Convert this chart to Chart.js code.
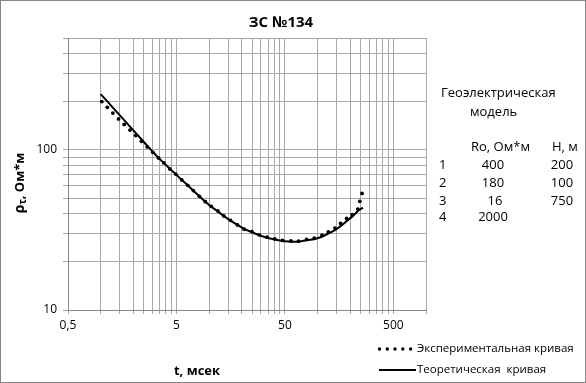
<!DOCTYPE html>
<html><head><meta charset="utf-8">
<script src="https://cdn.jsdelivr.net/npm/chart.js@4.4.1/dist/chart.umd.min.js"></script>
<style>
html,body{margin:0;padding:0;background:#fff;}
canvas{display:block;}
</style></head><body>
<canvas id="c" width="586" height="383"></canvas>
<script>
// ---- data ----
const chartTitle = 'ЗС №134';
const xAxisTitle = 't, мсек';
const yAxisTitleParts = ['ρ', 'τ', ', Ом*м'];
const seriesNames = ['Экспериментальная кривая', 'Теоретическая  кривая'];

const timeMs = [1.025, 1.152, 1.296, 1.462, 1.649, 1.864, 2.103, 2.377, 2.688, 3.031,
  3.418, 3.823, 4.34, 4.927, 5.59, 6.35, 7.16, 8.13, 9.23, 10.47,
  12.04, 13.67, 15.74, 18.26, 21.03, 24.8, 29.05, 34.19, 40.3, 47.5,
  56.8, 66.7, 79.2, 93.2, 110, 125.6, 144.7, 163.2, 185.3, 208.6,
  235.3, 245.4, 257];
const rhoExperimental = [200.4, 184.4, 169.8, 156.2, 144.3, 133, 122.9, 113.2, 104.4, 96.6,
  89.1, 83.0, 76.1, 70.6, 65.0, 60.1, 55.7, 51.3, 47.5, 44.4,
  41.6, 38.7, 36.3, 34.0, 32.0, 30.9, 29.5, 28.5, 27.8, 27.2,
  27.0, 26.9, 27.6, 28.1, 29.3, 30.7, 32.5, 34.7, 37.3, 39.4,
  42.7, 47.7, 53.5];
const timeTheory = [1.0, 1.152, 1.296, 1.462, 1.649, 1.864, 2.103, 2.377, 2.688, 3.031,
  3.418, 3.823, 4.34, 4.927, 5.59, 6.35, 7.16, 8.13, 9.23, 10.47,
  12.04, 13.67, 15.74, 18.26, 21.03, 24.8, 29.05, 34.19, 40.3, 47.5,
  56.8, 66.7, 79.2, 93.2, 110, 125.6, 144.7, 163.2, 185.3, 208.6,
  235.3, 245.4, 262];
const rhoTheoretical = [223, 201, 183.8, 167.9, 153.6, 139.8, 127.8, 116.5, 106.2, 97.3,
  89.1, 83.0, 76.3, 70.6, 65.0, 60.1, 55.6, 51.3, 47.4, 44.1,
  41.3, 38.6, 36.2, 34.0, 32.1, 30.6, 29.3, 28.3, 27.6, 27.0,
  26.7, 26.7, 27.3, 27.7, 28.7, 30.0, 31.5, 33.4, 35.9, 38.3,
  41.5, 42.4, 43.6];

const xTickValues = [0.5, 1, 1.5, 2, 2.5, 3, 3.5, 4, 4.5, 5, 10, 15, 20, 25, 30, 35, 40, 45,
  50, 100, 150, 200, 250, 300, 350, 400, 450, 500, 1000];
const xTickLabels = {0.5: '0,5', 5: '5', 50: '50', 500: '500'};
const yTickValues = [10, 20, 30, 40, 50, 60, 70, 80, 90, 100, 200, 300, 400, 500];
const yTickLabels = {10: '10', 100: '100'};

const modelTitle = ['Геоэлектрическая', 'модель'];
const modelHeaders = ['Ro, Ом*м', 'H, м'];
const layerNumbers = ['1', '2', '3', '4'];
const layerRo = ['400', '180', '16', '2000'];
const layerH = ['200', '100', '750', ''];

// ---- drawing ----
const FONT = "'Open Sans','Noto Sans','DejaVu Sans',sans-serif";
const GRID = '#a8a8a8';
const AXIS = '#868686';

const decor = {
  id: 'decor',
  afterDraw(chart) {
    const ctx = chart.ctx;
    ctx.save();
    ctx.fillStyle = '#000';
    ctx.textBaseline = 'middle';
    // title
    ctx.font = 'bold 15px ' + FONT;
    ctx.textAlign = 'center';
    ctx.fillText(chartTitle, 281, 23);
    // x title
    ctx.font = 'bold 13px ' + FONT;
    ctx.fillText(xAxisTitle, 197, 371);
    // y title (rotated, with subscript)
    ctx.save();
    ctx.translate(20, 183);
    ctx.rotate(-Math.PI / 2);
    ctx.textAlign = 'left';
    const fMain = 'bold 14px ' + FONT, fSub = 'bold 10px ' + FONT, fRest = 'bold 13px ' + FONT;
    ctx.font = fMain; const w1 = ctx.measureText(yAxisTitleParts[0]).width;
    ctx.font = fSub; const w2 = ctx.measureText(yAxisTitleParts[1]).width;
    ctx.font = fRest; const w3 = ctx.measureText(yAxisTitleParts[2]).width;
    let x0 = -(w1 + w2 + w3) / 2;
    ctx.font = fMain; ctx.fillText(yAxisTitleParts[0], x0, 0); x0 += w1;
    ctx.font = fSub; ctx.fillText(yAxisTitleParts[1], x0, 3); x0 += w2;
    ctx.font = fRest; ctx.fillText(yAxisTitleParts[2], x0, 0);
    ctx.restore();
    // model table
    ctx.font = '13px ' + FONT;
    ctx.textAlign = 'left';
    ctx.fillText(modelTitle[0], 441, 93);
    ctx.fillText(modelTitle[1], 470, 112);
    ctx.fillText(modelHeaders[0], 471, 147);
    ctx.fillText(modelHeaders[1], 552, 147);
    const rowY = [165, 183, 201, 217];
    for (let i = 0; i < layerNumbers.length; i++) {
      ctx.textAlign = 'left';
      ctx.fillText(layerNumbers[i], 439, rowY[i]);
      ctx.textAlign = 'center';
      ctx.fillText(layerRo[i], i === 2 ? 495 : 493, rowY[i]);
      ctx.fillText(layerH[i], 562, rowY[i]);
    }
    // legend
    ctx.textAlign = 'left';
    ctx.font = '11.5px ' + FONT;
    [379.5, 387.3, 395, 402.8, 410.6].forEach(x => {
      ctx.beginPath(); ctx.arc(x, 349, 1.7, 0, Math.PI * 2); ctx.fill();
    });
    ctx.fillText(seriesNames[0], 417, 349);
    ctx.strokeStyle = '#000'; ctx.lineWidth = 2;
    ctx.beginPath(); ctx.moveTo(379, 370); ctx.lineTo(416, 370); ctx.stroke();
    ctx.fillText(seriesNames[1], 417, 370);
    // outer border
    ctx.strokeStyle = '#868686'; ctx.lineWidth = 1;
    ctx.strokeRect(0.5, 0.5, 585, 382);
    ctx.restore();
  }
};

new Chart(document.getElementById('c'), {
  type: 'scatter',
  data: {
    datasets: [
      {
        label: seriesNames[0],
        data: timeMs.map((t, i) => ({x: t, y: rhoExperimental[i]})),
        showLine: false, pointRadius: 1.9, pointBorderWidth: 0,
        pointBackgroundColor: '#000', order: 1
      },
      {
        label: seriesNames[1],
        data: timeTheory.map((t, i) => ({x: t, y: rhoTheoretical[i]})),
        showLine: true, borderColor: '#000', borderWidth: 2, pointRadius: 0,
        tension: 0, order: 2
      }
    ]
  },
  options: {
    responsive: false, animation: false, devicePixelRatio: 1,
    layout: {padding: {left: 0, top: 38, right: 160, bottom: 0}},
    plugins: {legend: {display: false}, title: {display: false}, tooltip: {enabled: false}},
    scales: {
      x: {
        type: 'logarithmic', min: 0.5, max: 1000,
        afterBuildTicks: s => { s.ticks = xTickValues.map(v => ({value: v})); },
        afterFit: s => { s.height = 73; },
        ticks: {autoSkip: false, maxRotation: 0, minRotation: 0,
          callback: v => xTickLabels[v] ?? '', font: {family: FONT, size: 12}, color: '#000', padding: 4},
        grid: {color: GRID, tickLength: 4, lineWidth: 1},
        border: {color: AXIS}
      },
      y: {
        type: 'logarithmic', min: 10, max: 500,
        afterBuildTicks: s => { s.ticks = yTickValues.map(v => ({value: v})); },
        afterFit: s => { s.width = 68; },
        ticks: {autoSkip: false, callback: v => yTickLabels[v] ?? '',
          font: {family: FONT, size: 12}, color: '#000', padding: 6},
        grid: {color: GRID, tickLength: 5, lineWidth: 1},
        border: {color: AXIS}
      }
    }
  },
  plugins: [decor]
});
</script>
</body></html>
